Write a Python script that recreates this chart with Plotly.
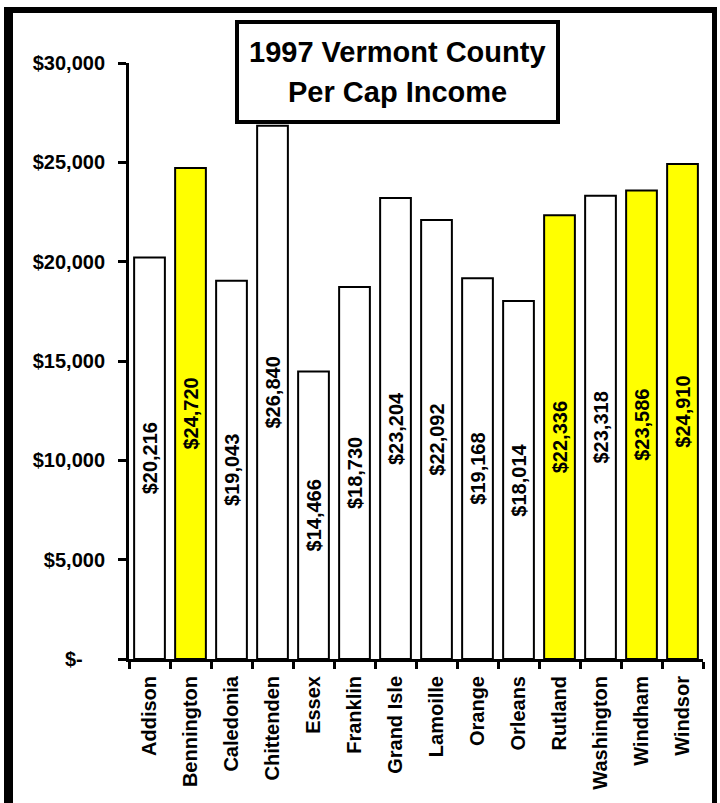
import plotly.graph_objects as go

counties = ["Addison", "Bennington", "Caledonia", "Chittenden", "Essex", "Franklin",
            "Grand Isle", "Lamoille", "Orange", "Orleans", "Rutland", "Washington",
            "Windham", "Windsor"]
income = [20216, 24720, 19043, 26840, 14466, 18730, 23204, 22092, 19168, 18014,
          22336, 23318, 23586, 24910]
highlight = ["Bennington", "Rutland", "Windham", "Windsor"]
y_tickvals = [0, 5000, 10000, 15000, 20000, 25000, 30000]
y_ticktext = ["$-" + "\u00a0" * 4, "$5,000", "$10,000", "$15,000", "$20,000", "$25,000", "$30,000"]
title_lines = ["1997 Vermont County", "Per Cap Income"]

W, H = 720, 803
L, R, T, B = 129, 17, 63, 144
PW, PH = W - L - R, H - T - B

def px(x):
    return (x - L) / PW

def py(y):
    return (H - B - y) / PH

FONT = "Liberation Sans, Arial, sans-serif"
colors = ["#FFFF00" if c in highlight else "#FFFFFF" for c in counties]
labels = ["${:,}".format(v) for v in income]

fig = go.Figure(go.Bar(
    x=counties, y=income,
    marker=dict(color=colors, line=dict(color="black", width=2)),
    text=labels, textposition="inside", insidetextanchor="middle",
    textangle=-90, textfont=dict(family=FONT, size=20, color="black", weight="bold"),
    cliponaxis=False, hoverinfo="skip",
))

fig.update_layout(
    width=W, height=H, autosize=False,
    margin=dict(l=L, r=R, t=T, b=B),
    paper_bgcolor="white", plot_bgcolor="white",
    bargap=0.25, showlegend=False,
    font=dict(family=FONT, color="black"),
)
fig.update_xaxes(
    type="category", tickson="boundaries", ticks="outside", ticklen=7, tickwidth=3,
    tickcolor="black", showline=True, linewidth=3, linecolor="black",
    tickangle=-90, tickfont=dict(family=FONT, size=20, color="black", weight="bold"),
    showgrid=False, ticklabelstandoff=6,
)
fig.update_yaxes(
    range=[0, 30000], tickvals=y_tickvals, ticktext=y_ticktext,
    ticks="outside", ticklen=8, tickwidth=3, tickcolor="black",
    showline=True, linewidth=3, linecolor="black", showgrid=False, zeroline=False,
    tickfont=dict(family=FONT, size=20, color="black", weight="bold"),
    ticklabelstandoff=9,
)

shapes = []
# outer frame
shapes.append(dict(type="rect", xref="paper", yref="paper", x0=px(4), x1=px(13), y0=py(H + 20), y1=py(7),
                   fillcolor="black", line=dict(width=0)))
shapes.append(dict(type="rect", xref="paper", yref="paper", x0=px(4), x1=px(717), y0=py(13), y1=py(7),
                   fillcolor="black", line=dict(width=0)))
shapes.append(dict(type="rect", xref="paper", yref="paper", x0=px(712), x1=px(717), y0=py(H + 20), y1=py(7),
                   fillcolor="black", line=dict(width=0)))
# title box
shapes.append(dict(type="rect", xref="paper", yref="paper", x0=px(237), x1=px(558), y0=py(122), y1=py(22),
                   fillcolor="white", line=dict(color="black", width=4)))
fig.update_layout(shapes=shapes)

fig.add_annotation(x=px(397), y=py(52), xref="paper", yref="paper", text=title_lines[0],
                   showarrow=False, xanchor="center", yanchor="middle",
                   font=dict(family=FONT, size=29, color="black", weight="bold"))
fig.add_annotation(x=px(397), y=py(92), xref="paper", yref="paper", text=title_lines[1],
                   showarrow=False, xanchor="center", yanchor="middle",
                   font=dict(family=FONT, size=29, color="black", weight="bold"))

fig.write_html("out.html", config={"displayModeBar": False, "staticPlot": True},
               post_script="document.body.style.margin='0';document.body.style.overflow='hidden';")
